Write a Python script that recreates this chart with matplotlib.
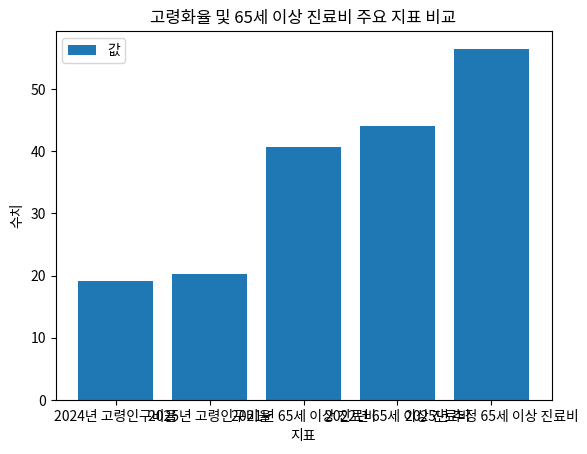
import matplotlib
matplotlib.use('Agg')
import matplotlib.pyplot as plt

plt.rcParams['font.family'] = ['Noto Sans CJK KR', 'DejaVu Sans']
plt.rcParams['axes.unicode_minus'] = False

# 지표별 수치
labels = ['2024년 고령인구비율', '2025년 고령인구비율', '2021년 65세 이상 진료비',
          '2022년 65세 이상 진료비', '2025년 추정 65세 이상 진료비']
values = [19.2, 20.3, 40.6, 44.1, 56.5]

fig = plt.figure(figsize=(5.87, 4.54), dpi=100)
ax = fig.add_axes([55.5 / 587, 54 / 454, 496 / 587, 369 / 454])
ax.bar(labels, values, color='#1f77b4', label='값')
ax.set_title('고령화율 및 65세 이상 진료비 주요 지표 비교')
ax.set_xlabel('지표')
ax.set_ylabel('수치')
ax.legend(loc='upper left')

fig.savefig('out.png', dpi=100)
